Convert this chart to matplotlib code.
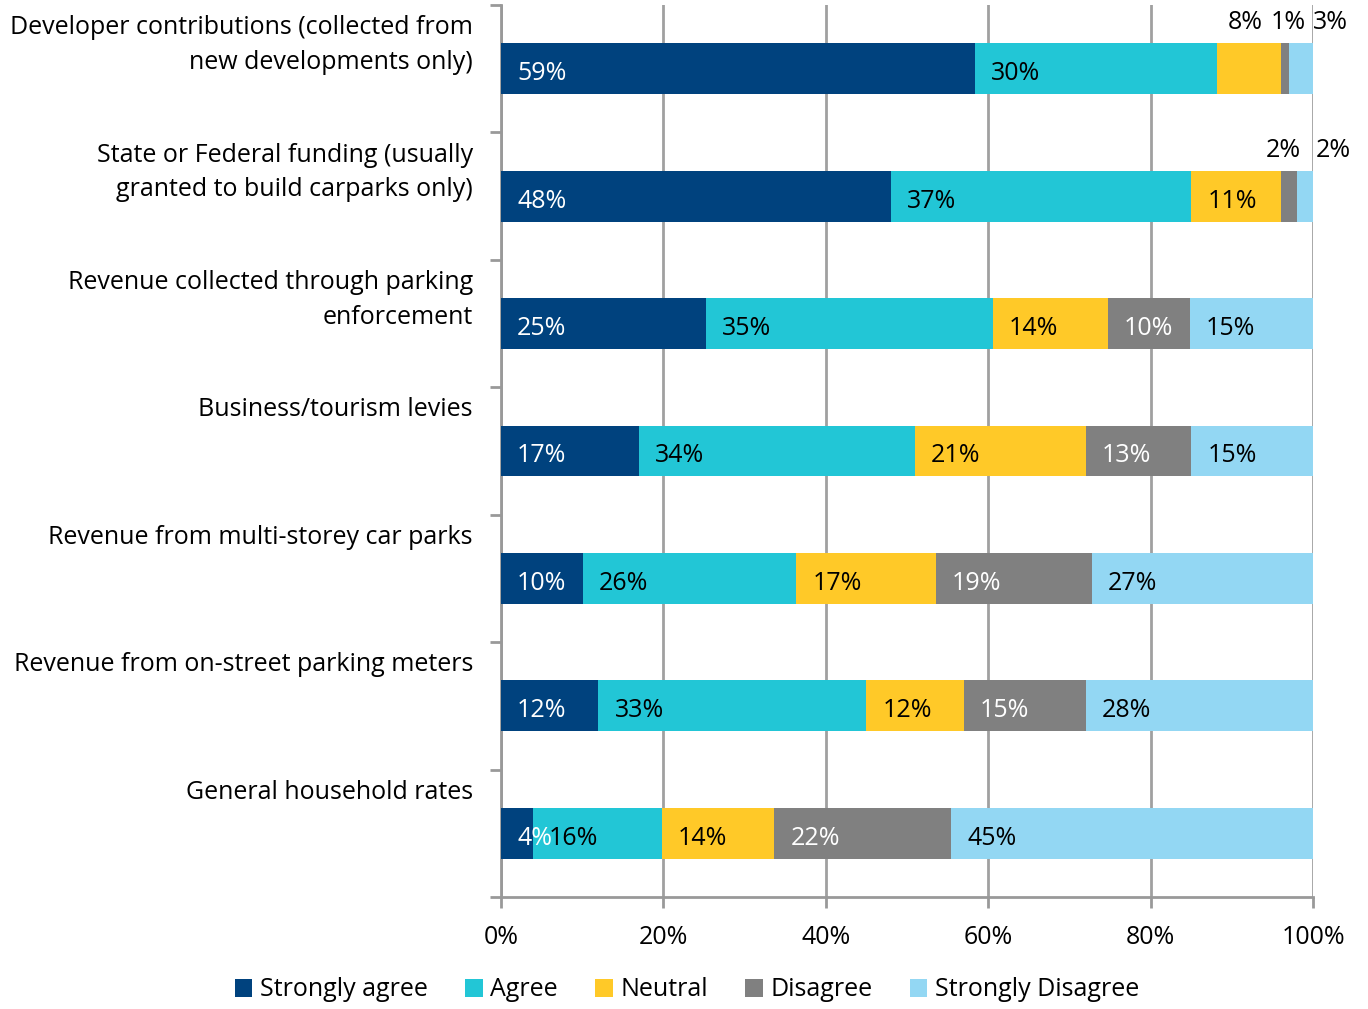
import numpy as np
import matplotlib.pyplot as plt
import matplotlib.transforms as mtransforms

categories = [
    'Developer contributions (collected from\nnew developments only)',
    'State or Federal funding (usually\ngranted to build carparks only)',
    'Revenue collected through parking\nenforcement',
    'Business/tourism levies',
    'Revenue from multi-storey car parks',
    'Revenue from on-street parking meters',
    'General household rates',
]
series = ['Strongly agree', 'Agree', 'Neutral', 'Disagree', 'Strongly Disagree']
strongly_agree = [59, 48, 25, 17, 10, 12, 4]
agree = [30, 37, 35, 34, 26, 33, 16]
neutral = [8, 11, 14, 21, 17, 12, 14]
disagree = [1, 2, 10, 13, 19, 15, 22]
strongly_disagree = [3, 2, 15, 15, 27, 28, 45]
x_ticks = [0, 20, 40, 60, 80, 100]

colors = ['#00427e', '#22c6d6', '#ffc928', '#808080', '#93d7f3']
text_colors = ['white', 'black', 'black', 'white', 'black']
# labels of thin segments sit above the bar: (row, series) -> x position in %
outside = {(0, 2): 91.6, (0, 3): 96.9, (0, 4): 102.2, (1, 3): 96.4, (1, 4): 102.5}

plt.rcParams['font.family'] = ['Open Sans', 'DejaVu Sans']
fs = 18

data = np.array([strongly_agree, agree, neutral, disagree, strongly_disagree], dtype=float)
pct = data / data.sum(axis=0) * 100
y = np.arange(len(categories))

fig = plt.figure(figsize=(13.68, 10.09), dpi=100)
ax = fig.add_axes([501 / 1368, 1 - 897 / 1009, 812 / 1368, 892 / 1009])

left = np.zeros(len(categories))
for k, name in enumerate(series):
    ax.barh(y, pct[k], left=left, height=0.4, color=colors[k], label=name, zorder=3)
    for i in range(len(categories)):
        if (i, k) in outside:
            ax.text(outside[(i, k)], y[i] - 0.36, f'{int(data[k, i])}%', ha='center', va='center',
                    fontsize=fs, color='black', zorder=4, clip_on=False)
        else:
            ax.annotate(f'{int(data[k, i])}%', (left[i], y[i]), xytext=(16, -2), textcoords='offset pixels',
                        ha='left', va='center_baseline', fontsize=fs, color=text_colors[k], zorder=4)
    left += pct[k]

ax.set_xlim(0, 100)
ax.set_ylim(len(categories) - 0.5, -0.5)
ax.set_xticks(x_ticks)
ax.set_xticklabels([f'{t}%' for t in x_ticks], fontsize=fs)
ax.set_yticks(np.arange(len(categories) + 1) - 0.5)
ax.set_yticklabels([])
ax.tick_params(axis='both', color='#999999', width=2, length=8)
ax.tick_params(axis='x', pad=12)
ax.grid(axis='x', color='#a0a0a0', linewidth=2, zorder=1)
for s in ['top', 'right']:
    ax.spines[s].set_visible(False)
for s in ['left', 'bottom']:
    ax.spines[s].set_color('#999999')
    ax.spines[s].set_linewidth(2)

trans = mtransforms.blended_transform_factory(ax.transAxes, ax.transData)
for i, cat in enumerate(categories):
    ax.text(-0.0345, y[i] - 0.42, cat, transform=trans, ha='right', va='top', fontsize=fs,
            linespacing=1.5)

ax.legend(loc='center', bbox_to_anchor=(687 / 1368, 1 - 990 / 1009), bbox_transform=fig.transFigure,
          ncol=5, frameon=False, fontsize=fs, handlelength=0.7, handleheight=0.7,
          handletextpad=0.3, columnspacing=1.5)

fig.savefig('out.png', dpi=100)
